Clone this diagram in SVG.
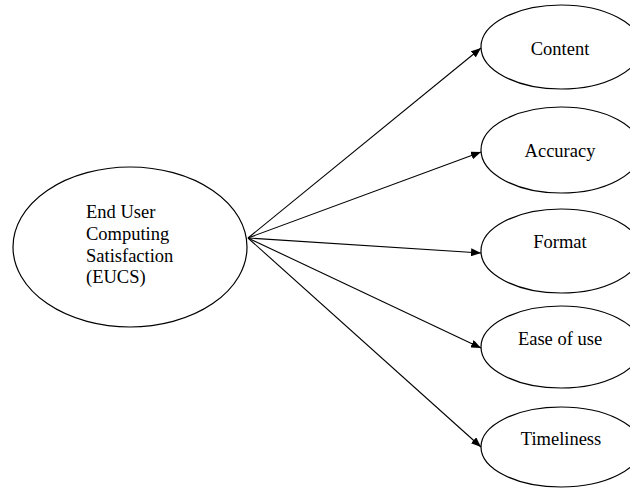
<svg xmlns="http://www.w3.org/2000/svg" width="630" height="488" viewBox="0 0 630 488">
<defs>
<style>
.n ellipse{fill:#fff;stroke:#000;stroke-width:1.2}
.n text{font-family:'Liberation Serif','Times New Roman',serif;font-size:18.5px;fill:#000}
.c line{stroke:#000;stroke-width:1.1}
</style>
<marker id="ah" viewBox="0 0 10 8" refX="10" refY="4" markerWidth="10" markerHeight="8" markerUnits="userSpaceOnUse" orient="auto">
<path d="M0,0 L10,4 L0,8 Z" fill="#000"/>
</marker>
</defs>
<rect width="630" height="488" fill="#fff"/>
<g id="eucs" class="n">
<ellipse cx="130" cy="247" rx="117" ry="80"/>
<text x="86" y="218">End User</text>
<text x="86" y="239.5">Computing</text>
<text x="86" y="261.5">Satisfaction</text>
<text x="86" y="283">(EUCS)</text>
</g>
<g id="content" class="n">
<ellipse cx="561" cy="47" rx="80" ry="42"/>
<text x="560" y="55" text-anchor="middle">Content</text>
</g>
<g id="accuracy" class="n">
<ellipse cx="561" cy="150" rx="80" ry="43"/>
<text x="560" y="157" text-anchor="middle">Accuracy</text>
</g>
<g id="format" class="n">
<ellipse cx="561" cy="251" rx="80" ry="42"/>
<text x="560" y="248" text-anchor="middle">Format</text>
</g>
<g id="ease" class="n">
<ellipse cx="561" cy="347" rx="80" ry="41"/>
<text x="560" y="345" text-anchor="middle">Ease of use</text>
</g>
<g id="timeliness" class="n">
<ellipse cx="561" cy="447" rx="80" ry="40"/>
<text x="561" y="445" text-anchor="middle">Timeliness</text>
</g>
<g id="connectors" class="c">
<line x1="248" y1="238" x2="481" y2="48" marker-end="url(#ah)"/>
<line x1="248" y1="238" x2="481" y2="152" marker-end="url(#ah)"/>
<line x1="248" y1="238" x2="481" y2="253" marker-end="url(#ah)"/>
<line x1="248" y1="238" x2="481" y2="348" marker-end="url(#ah)"/>
<line x1="248" y1="238" x2="481" y2="447" marker-end="url(#ah)"/>
</g>
</svg>
